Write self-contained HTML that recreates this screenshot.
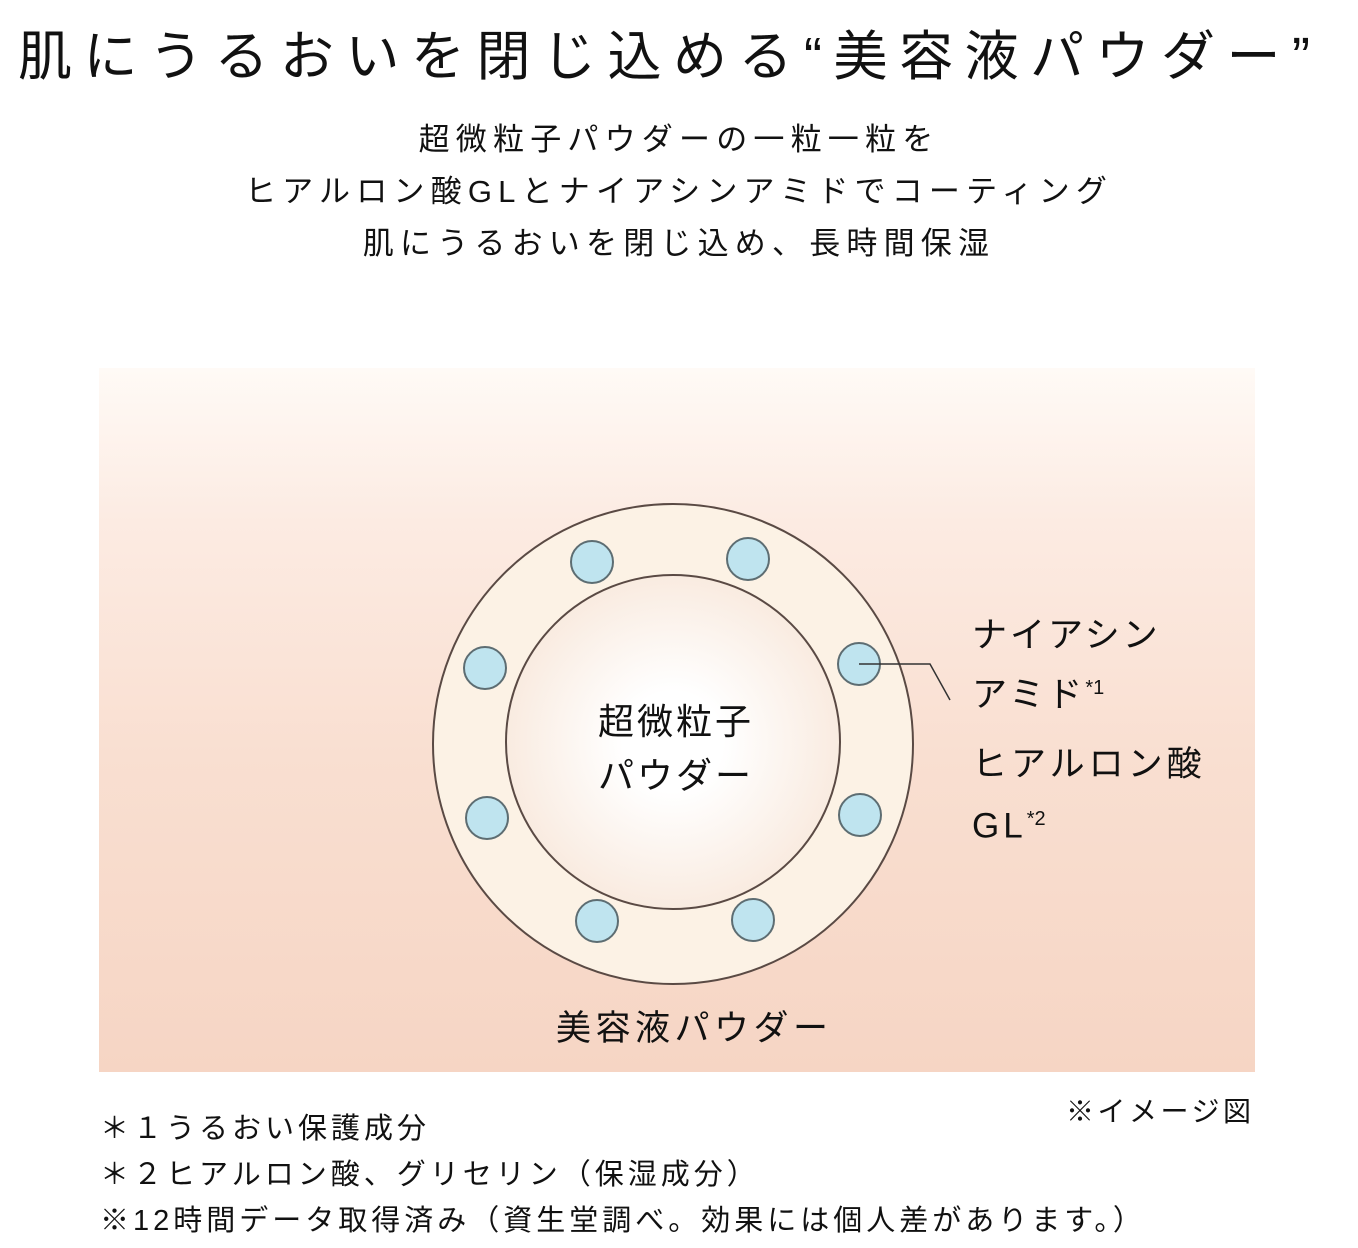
<!DOCTYPE html>
<html><head><meta charset="utf-8"><style>
body{margin:0;width:1358px;height:1248px;background:#fff;position:relative;overflow:hidden;font-family:"Liberation Sans","Noto Sans CJK JP",sans-serif;color:#111}
.t{position:absolute;white-space:nowrap}
</style></head><body>
<div class="t" style="left:18px;top:12px;font-size:54px;letter-spacing:11.5px">肌にうるおいを閉じ込める“美容液パウダー”</div>
<div class="t" style="left:0;width:1358px;text-align:center;top:114px;font-size:31px;line-height:52px;letter-spacing:6.2px">超微粒子パウダーの一粒一粒を<br>ヒアルロン酸GLとナイアシンアミドでコーティング<br>肌にうるおいを閉じ込め、長時間保湿</div>
<div style="position:absolute;left:99px;top:368px;width:1156px;height:704px;background:linear-gradient(#fffaf6 0%,#fcebe2 22%,#f9dfd1 55%,#f6d5c4 100%)"></div>
<svg style="position:absolute;left:0;top:0" width="1358" height="1248">
<defs><radialGradient id="g" cx="0.5" cy="0.5" r="0.5"><stop offset="0.3" stop-color="#fff"/><stop offset="1" stop-color="#f9ebe0"/></radialGradient></defs>
<circle cx="673" cy="744" r="240" fill="#fcf2e5" stroke="#5a4a44" stroke-width="2"/>
<circle cx="673" cy="742" r="167" fill="url(#g)" stroke="#5a4a44" stroke-width="2"/>
<g fill="#bfe4ef" stroke="#5d6d72" stroke-width="2">
<circle cx="592" cy="562" r="21"/><circle cx="748" cy="559" r="21"/>
<circle cx="485" cy="668" r="21"/><circle cx="859" cy="664" r="21"/>
<circle cx="487" cy="818" r="21"/><circle cx="860" cy="815" r="21"/>
<circle cx="597" cy="921" r="21"/><circle cx="753" cy="920" r="21"/>
</g>
<polyline points="859,664 930,664 950,700" fill="none" stroke="#333" stroke-width="1.5"/>
</svg>
<div class="t" style="left:588px;top:695px;font-size:36px;line-height:54px;text-align:center;width:176px;letter-spacing:3px">超微粒子<br>パウダー</div>
<div class="t" style="left:972px;top:610px;font-size:35px;line-height:52px;letter-spacing:3px">ナイアシン<br>アミド<sup style="font-size:20px;letter-spacing:0">*1</sup></div>
<div class="t" style="left:972px;top:738px;font-size:35px;line-height:54px;letter-spacing:4px">ヒアルロン酸<br>GL<sup style="font-size:20px;letter-spacing:0">*2</sup></div>
<div class="t" style="left:556px;top:1000px;font-size:35px;letter-spacing:4.5px">美容液パウダー</div>
<div class="t" style="left:1066px;top:1090px;font-size:28px;letter-spacing:3.5px">※イメージ図</div>
<div class="t" style="left:100px;top:1106px;font-size:29px;line-height:46px;letter-spacing:4px">＊１うるおい保護成分<br>＊２ヒアルロン酸、グリセリン（保湿成分）<br>※12時間データ取得済み（資生堂調べ。効果には個人差があります。）</div>
</body></html>
